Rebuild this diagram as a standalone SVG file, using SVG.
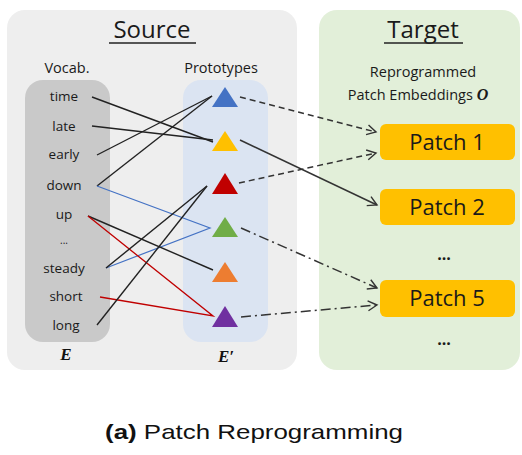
<svg xmlns="http://www.w3.org/2000/svg" width="522" height="455" viewBox="0 0 522 455">
<style>
.t{font-family:"Open Sans","DejaVu Sans",sans-serif;fill:#1a1a1a}
.w{font-size:13.5px;text-anchor:middle}
.h{font-size:24px;text-anchor:middle}
.p{font-size:22px;text-anchor:middle}
.k{stroke:#222;stroke-width:1.4;fill:none}
.b{stroke:#4472C4;stroke-width:1.2;fill:none}
.r{stroke:#C00000;stroke-width:1.3;fill:none}
.a{stroke:#333;stroke-width:1.5;fill:none;marker-end:url(#ah)}
.patch{fill:#FFC000}
.m{font-family:"Liberation Serif",serif;font-weight:bold;font-style:italic;font-size:17px;text-anchor:middle;fill:#111}
</style>
<defs>
<marker id="ah" markerWidth="12" markerHeight="12" refX="10" refY="6" orient="auto" markerUnits="userSpaceOnUse">
<path d="M1,1 L10,6 L1,11" fill="none" stroke="#333" stroke-width="1.4"/>
</marker>
</defs>
<rect width="522" height="455" fill="#fff"/>
<g id="source-panel">
<rect x="7" y="10" width="290" height="360" rx="18" fill="#eeeeee"/>
<text class="t h" x="152" y="38">Source</text>
<line x1="109" y1="43" x2="196" y2="43" stroke="#222" stroke-width="1.5"/>
<text class="t w" x="67" y="73" style="font-size:14.5px">Vocab.</text>
<text class="t w" x="221" y="73" style="font-size:14.5px">Prototypes</text>
<rect x="25" y="80" width="85" height="262" rx="18" fill="#c9c9c9"/>
<rect x="183" y="80" width="85" height="262" rx="18" fill="#dbe4f2"/>
<text class="m" x="66" y="360">E</text>
<text class="m" x="226" y="362">E′</text>
</g>
<g id="target-panel">
<rect x="319" y="10" width="201" height="360" rx="18" fill="#e2efd9"/>
<text class="t h" x="423" y="38">Target</text>
<line x1="384" y1="43" x2="463" y2="43" stroke="#222" stroke-width="1.5"/>
<text class="t w" x="423" y="77" style="font-size:14.5px">Reprogrammed</text>
<text class="t w" x="418" y="100" style="font-size:14.5px">Patch Embeddings <tspan font-family="Liberation Serif,serif" font-weight="bold" font-style="italic" font-size="16">O</tspan></text>
<text class="t p" x="444" y="260" style="font-weight:bold;font-size:16px">...</text>
<text class="t p" x="444" y="345" style="font-weight:bold;font-size:16px">...</text>
</g>
<g id="vocab">
<text class="t w" x="64" y="101">time</text>
<text class="t w" x="64" y="131">late</text>
<text class="t w" x="64" y="159">early</text>
<text class="t w" x="64" y="190">down</text>
<text class="t w" x="64" y="219">up</text>
<text class="t w" x="64" y="244" style="font-size:10px">...</text>
<text class="t w" x="64" y="273">steady</text>
<text class="t w" x="66" y="301">short</text>
<text class="t w" x="66" y="330">long</text>
</g>
<g id="connectors">
<line class="k" x1="92" y1="97" x2="213" y2="142"/>
<line class="k" x1="92" y1="126" x2="213" y2="140"/>
<line class="k" x1="97" y1="155" x2="212" y2="96"/>
<line class="k" x1="97" y1="186" x2="212" y2="96"/>
<polyline class="b" points="97,186 210,228 106,268"/>
<line class="k" x1="88" y1="216" x2="213" y2="270"/>
<polyline class="r" points="88,216 213,316 100,297"/>
<line class="k" x1="106" y1="268" x2="207" y2="186"/>
<line class="k" x1="97" y1="325" x2="207" y2="186"/>
<line class="a" x1="240" y1="97" x2="376" y2="132" stroke-dasharray="6,4"/>
<line class="a" x1="240" y1="140" x2="377" y2="205"/>
<line class="a" x1="239" y1="183" x2="376" y2="153" stroke-dasharray="6,4"/>
<line class="a" x1="241" y1="228" x2="377" y2="288" stroke-dasharray="10,4,2,4"/>
<line class="a" x1="241" y1="317" x2="377" y2="305" stroke-dasharray="10,4,2,4"/>
</g>
<g id="prototypes">
<polygon points="225,87 212,107 238,107" fill="#4472C4"/>
<polygon points="225,131 212,151 238,151" fill="#FFC000"/>
<polygon points="225,173 212,194 238,194" fill="#C00000"/>
<polygon points="225,217 212,237 238,237" fill="#70AD47"/>
<polygon points="225,262 212,282 238,282" fill="#ED7D31"/>
<polygon points="225,306 212,327 238,327" fill="#7030A0"/>
</g>
<g id="patch1"><rect class="patch" x="380" y="124" width="135" height="36" rx="6"/><text class="t p" x="447" y="150">Patch 1</text></g>
<g id="patch2"><rect class="patch" x="380" y="189" width="135" height="36" rx="6"/><text class="t p" x="447" y="215">Patch 2</text></g>
<g id="patch5"><rect class="patch" x="380" y="280" width="135" height="37" rx="6"/><text class="t p" x="447" y="306">Patch 5</text></g>
<g id="caption">
<text x="105" y="439" style="font-family:'Liberation Sans',sans-serif;font-size:21px;fill:#111" textLength="298" lengthAdjust="spacingAndGlyphs"><tspan font-weight="bold">(a)</tspan> Patch Reprogramming</text>
</g>
</svg>
